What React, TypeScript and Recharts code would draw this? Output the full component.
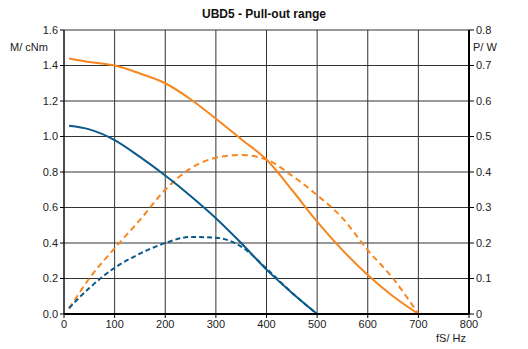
import { CartesianGrid, ComposedChart, Line, XAxis, YAxis } from 'recharts';

// UBD5 pull-out range: torque (left axis, cNm) and power (right axis, W) vs step frequency.
const freqHz = [10, 50, 100, 150, 200, 250, 300, 350, 400, 450, 500, 550, 600, 650, 700];
const torqueOrange = [1.44, 1.42, 1.4, 1.355, 1.3, 1.21, 1.1, 0.985, 0.87, 0.7, 0.52, 0.36, 0.22, 0.1, 0];
const powerOrange = [0.015, 0.1, 0.185, 0.265, 0.35, 0.41, 0.44, 0.448, 0.435, 0.39, 0.335, 0.27, 0.18, 0.1, 0];
const torqueBlue = [1.06, 1.04, 0.98, 0.885, 0.78, 0.665, 0.54, 0.4, 0.25, 0.12, 0, null, null, null, null];
const powerBlue = [0.017, 0.073, 0.13, 0.17, 0.2, 0.217, 0.215, 0.19, 0.128, 0.06, 0, null, null, null, null];

const xTicks = [0, 100, 200, 300, 400, 500, 600, 700, 800];
const leftTicks = [0, 0.2, 0.4, 0.6, 0.8, 1.0, 1.2, 1.4, 1.6];
const rightTicks = [0, 0.1, 0.2, 0.3, 0.4, 0.5, 0.6, 0.7, 0.8];

const ORANGE = '#f7861f';
const BLUE = '#0b5a8a';
const FONT = '"Liberation Sans", Arial, sans-serif';
const tickStyle = { fill: '#222', fontSize: 11, fontFamily: FONT };

export default function App() {
  const data = freqHz.map((f, i) => ({
    f,
    mO: torqueOrange[i],
    pO: powerOrange[i],
    mB: torqueBlue[i],
    pB: powerBlue[i],
  }));

  return (
    <div style={{ position: 'absolute', left: 0, top: 0, width: 528, height: 349, background: '#fff', fontFamily: FONT }}>
      <div style={{ position: 'absolute', left: 0, width: 528, top: 7, textAlign: 'center', fontSize: 12, fontWeight: 'bold', color: '#111' }}>
        UBD5 - Pull-out range
      </div>
      <div style={{ position: 'absolute', left: 10, top: 41, fontSize: 11, color: '#222' }}>M/ cNm</div>
      <div style={{ position: 'absolute', left: 473, top: 41, fontSize: 11, color: '#222' }}>P/ W</div>
      <div style={{ position: 'absolute', left: 436, top: 332, fontSize: 11, color: '#222' }}>fS/ Hz</div>
      <ComposedChart
        width={528}
        height={349}
        data={data}
        margin={{ top: 30, right: 0, bottom: 15, left: 0 }}
        style={{ position: 'absolute', left: 0, top: 0 }}
      >
        <CartesianGrid yAxisId="m" stroke="#333" strokeWidth={1} />
        <XAxis
          type="number"
          dataKey="f"
          domain={[0, 800]}
          ticks={xTicks}
          interval={0}
          tick={tickStyle}
          tickLine={{ stroke: '#000' }}
          tickSize={4}
          axisLine={{ stroke: '#000', strokeWidth: 2 }}
          height={20}
        />
        <YAxis
          yAxisId="m"
          domain={[0, 1.6]}
          ticks={leftTicks}
          interval={0}
          tickFormatter={(v: number) => v.toFixed(1)}
          tick={tickStyle}
          tickLine={{ stroke: '#000' }}
          tickSize={4}
          axisLine={{ stroke: '#000' }}
          width={64}
        />
        <YAxis
          yAxisId="p"
          orientation="right"
          domain={[0, 0.8]}
          ticks={rightTicks}
          interval={0}
          tickFormatter={(v: number) => (v === 0 ? '0' : v.toFixed(1))}
          tick={tickStyle}
          tickLine={{ stroke: '#000' }}
          tickSize={5}
          axisLine={{ stroke: '#000', strokeWidth: 2 }}
          width={59}
        />
        <Line yAxisId="m" type="monotone" dataKey="mO" stroke={ORANGE} strokeWidth={2} dot={false} isAnimationActive={false} />
        <Line yAxisId="p" type="monotone" dataKey="pO" stroke={ORANGE} strokeWidth={2} strokeDasharray="6 4" dot={false} isAnimationActive={false} />
        <Line yAxisId="m" type="monotone" dataKey="mB" stroke={BLUE} strokeWidth={2} dot={false} isAnimationActive={false} />
        <Line yAxisId="p" type="monotone" dataKey="pB" stroke={BLUE} strokeWidth={2} strokeDasharray="5 3" dot={false} isAnimationActive={false} />
      </ComposedChart>
    </div>
  );
}
